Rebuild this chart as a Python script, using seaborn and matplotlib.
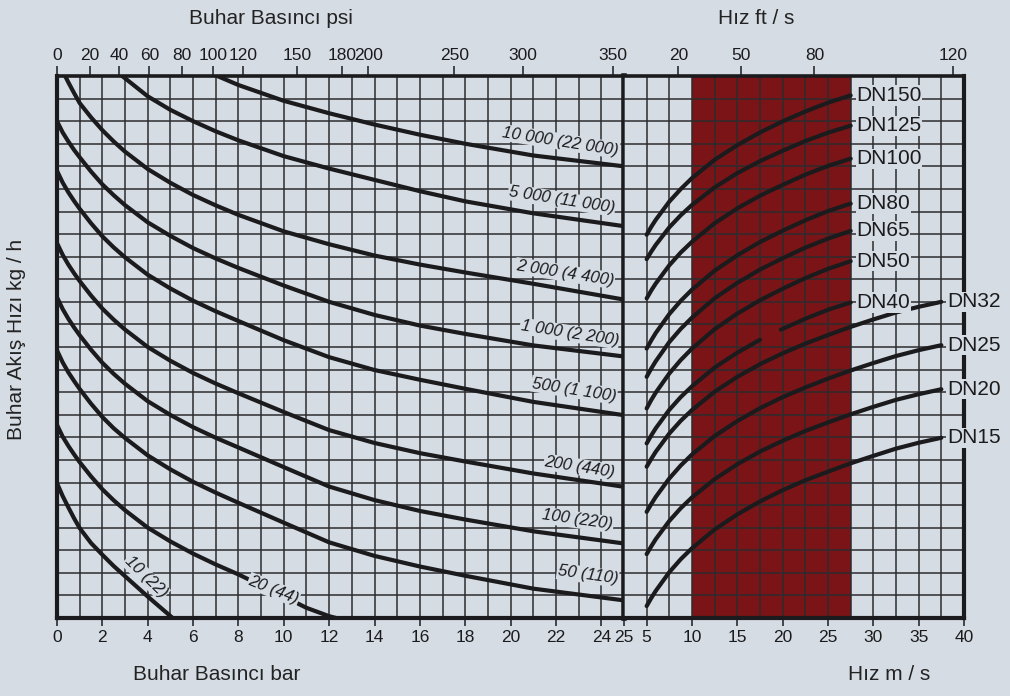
import pandas as pd
import seaborn as sns
import matplotlib.pyplot as plt

sns.set_style("ticks")
plt.rcParams['font.family'] = ['Liberation Sans', 'DejaVu Sans']
narrow = ['Liberation Sans Narrow', 'Liberation Sans', 'DejaVu Sans']

bg = "#d5dce4"
red = "#7a1416"
ink = "#1b1b1d"
grid_c = "#2c2c2e"

# steam flow curves, left panel: pressure (bar g) -> row on the log flow grid (0..24)
flow_names = ["10 000 (22 000)", "5 000 (11 000)", "2 000 (4 400)", "1 000 (2 200)",
              "500 (1 100)", "200 (440)", "100 (220)", "50 (110)", "20 (44)", "10 (22)"]
bars_full = [0, 0.25, 0.5, 0.75, 1, 1.5, 2, 2.5, 3, 4, 5, 6, 7, 8, 10, 12, 14, 16, 18, 21, 25]
flow_x = [
    [6, 7, 8, 10, 12, 14, 16, 18, 21, 25],
    [2, 2.5, 3, 4, 5, 6, 7, 8, 10, 12, 14, 16, 18, 21, 25],
    bars_full, bars_full, bars_full, bars_full, bars_full, bars_full,
    [0, 0.25, 0.5, 0.75, 1, 1.5, 2, 2.5, 3, 4, 5, 6, 7, 8, 10, 11, 12, 12.5],
    [0, 0.25, 0.5, 0.75, 1, 1.5, 2, 2.5, 3, 4, 5.1],
]
flow_y = [
    [24.5, 24.03, 23.6, 22.9, 22.35, 21.85, 21.4, 21.0, 20.48, 20.0],
    [24.8, 24.3, 23.9, 23.1, 22.5, 22.0, 21.55, 21.15, 20.45, 19.9, 19.4, 18.9, 18.45, 17.92, 17.35],
    [24.75, 24.22, 23.72, 23.25, 22.8, 22.17, 21.6, 21.1, 20.65, 19.88, 19.27, 18.73, 18.27,
     17.85, 17.12, 16.55, 16.05, 15.65, 15.3, 14.8, 14.1],
    [22.0, 21.5, 21.1, 20.73, 20.4, 19.77, 19.2, 18.72, 18.28, 17.52, 16.92, 16.38, 15.92,
     15.5, 14.72, 14.0, 13.42, 12.95, 12.58, 12.07, 11.58],
    [19.8, 19.28, 18.85, 18.47, 18.12, 17.48, 16.9, 16.41, 15.97, 15.2, 14.59, 14.05, 13.58,
     13.15, 12.3, 11.55, 10.98, 10.55, 10.15, 9.57, 8.98],
    [16.6, 16.08, 15.65, 15.27, 14.92, 14.28, 13.7, 13.21, 12.77, 12.0, 11.39, 10.85, 10.38,
     9.95, 9.12, 8.32, 7.75, 7.3, 6.93, 6.4, 5.81],
    [14.2, 13.68, 13.25, 12.87, 12.52, 11.88, 11.3, 10.81, 10.37, 9.6, 8.99, 8.45, 7.98,
     7.55, 6.68, 5.82, 5.22, 4.74, 4.36, 3.84, 3.3],
    [11.85, 11.32, 10.88, 10.5, 10.14, 9.49, 8.9, 8.4, 7.97, 7.2, 6.58, 6.03, 5.55,
     5.1, 4.22, 3.35, 2.75, 2.28, 1.87, 1.3, 0.78],
    [8.55, 8.03, 7.62, 7.25, 6.9, 6.27, 5.7, 5.21, 4.77, 4.0, 3.39, 2.85, 2.37, 1.93, 0.95,
     0.45, 0.08, -0.05],
    [5.97, 5.4, 4.9, 4.42, 3.98, 3.32, 2.8, 2.3, 1.85, 0.95, 0.0],
]
# label spot (bar, row) and angle for each flow curve
flow_lab = [(22.2, 21.1, -9), (22.25, 18.5, -9), (22.4, 15.27, -9), (22.6, 12.6, -9),
            (22.8, 10.1, -9), (23.05, 6.68, -9), (22.95, 4.34, -8), (23.4, 1.9, -8),
            (9.55, 1.25, -22), (3.92, 1.8, -44)]

# pipe size curves, right panel: velocity m/s -> row
dn_names = ["DN150", "DN125", "DN100", "DN80", "DN65", "DN50", "DN40",
            "DN32", "DN25", "DN20", "DN15"]
v_short = [5, 5.5, 6, 7.5, 8.75, 10, 12.5, 15, 17.5, 20, 22.5, 25, 27.5]
v_long = [5, 5.5, 6, 7.5, 8.75, 10, 12.5, 15, 17.5, 20, 22.5, 25, 27.5, 30, 32.5, 35, 37.5]
dn_x = ([v_short] * 6 + [[5, 5.5, 6, 7.5, 8.75, 10, 12.5, 15, 17.5, None, 19.8, 22.5, 25, 27.5]]
        + [v_long] * 4)
dn_y = [
    [16.97, 17.32, 17.63, 18.44, 18.99, 19.48, 20.29, 20.94, 21.5, 21.99, 22.43, 22.82, 23.14],
    [15.89, 16.22, 16.52, 17.3, 17.83, 18.29, 19.07, 19.7, 20.23, 20.69, 21.12, 21.49, 21.8],
    [14.15, 14.5, 14.81, 15.62, 16.18, 16.66, 17.48, 18.14, 18.7, 19.18, 19.63, 20.02, 20.34],
    [11.93, 12.29, 12.62, 13.46, 14.04, 14.54, 15.38, 16.06, 16.65, 17.15, 17.61, 18.02, 18.35],
    [10.68, 11.04, 11.37, 12.22, 12.8, 13.3, 14.16, 14.84, 15.43, 15.93, 16.4, 16.8, 17.14],
    [9.28, 9.65, 9.98, 10.83, 11.42, 11.93, 12.79, 13.48, 14.07, 14.58, 15.05, 15.46, 15.8],
    [7.73, 8.08, 8.4, 9.22, 9.78, 10.26, 11.09, 11.75, 12.32, None, 12.77, 13.25, 13.65, 13.97],
    [6.7, 7.04, 7.36, 8.17, 8.73, 9.21, 10.02, 10.68, 11.24, 11.72, 12.15, 12.53, 12.89, 13.22,
     13.53, 13.78, 14.0],
    [4.7, 5.04, 5.36, 6.18, 6.75, 7.24, 8.06, 8.72, 9.29, 9.78, 10.21, 10.6, 10.96, 11.29,
     11.6, 11.86, 12.08],
    [2.83, 3.17, 3.49, 4.3, 4.86, 5.34, 6.15, 6.81, 7.37, 7.85, 8.28, 8.66, 9.02, 9.35,
     9.66, 9.91, 10.13],
    [0.53, 0.88, 1.2, 2.03, 2.6, 3.09, 3.92, 4.59, 5.16, 5.66, 6.1, 6.48, 6.85, 7.18,
     7.5, 7.76, 7.98],
]

# axis ticks
bar_ticks = [0, 2, 4, 6, 8, 10, 12, 14, 16, 18, 20, 22, 24, 25]
psi_labels = [0, 20, 40, 60, 80, 100, 120, 150, 180, 200, 250, 300, 350]
psi_at_bar = [0, 1.44, 2.75, 4.07, 5.5, 6.89, 8.22, 10.57, 12.58, 13.73, 17.52, 20.54, 24.53]
ms_ticks = [5, 10, 15, 20, 25, 30, 35, 40]
fts_labels = [20, 50, 80, 120]
fts_at_ms = [8.5, 15.4, 23.5, 38.75]
band = (10, 27.5)

# long tables for seaborn
rows = []
for name, xs, ys in zip(flow_names, flow_x, flow_y):
    rows += [(name, x, y) for x, y in zip(xs, ys)]
flow_df = pd.DataFrame(rows, columns=["curve", "bar", "row"])

rows = []
for name, xs, ys in zip(dn_names, dn_x, dn_y):
    seg = 0
    for x, y in zip(xs, ys):
        if x is None:
            seg += 1
            continue
        rows.append((f"{name}_{seg}", x, y))
dn_df = pd.DataFrame(rows, columns=["curve", "v", "row"])

fig = plt.figure(figsize=(10.1, 6.96), dpi=100, facecolor=bg)
axL = fig.add_axes([57 / 1010, 78 / 696, 567 / 1010, 542 / 696], facecolor=bg)
axR = fig.add_axes([624 / 1010, 78 / 696, 340 / 1010, 542 / 696], facecolor=bg)

axR.axvspan(*band, color=red, lw=0, zorder=0.3)

sns.lineplot(data=flow_df, x="bar", y="row", units="curve", estimator=None, sort=False,
             color=ink, lw=3.0, ax=axL, legend=False, zorder=3)
sns.lineplot(data=dn_df, x="v", y="row", units="curve", estimator=None, sort=False,
             color=ink, lw=3.0, ax=axR, legend=False, zorder=3)

for ax, xlim, major, minor in [(axL, (0, 25), bar_ticks, [i for i in range(1, 25, 2)]),
                               (axR, (2.5, 40), ms_ticks, [2.5 + 5 * i for i in range(8)])]:
    ax.set_xlim(*xlim)
    ax.set_ylim(0, 24)
    ax.set_xticks(major)
    ax.set_xticks(minor, minor=True)
    ax.set_yticks(range(25))
    ax.set_yticklabels([])
    ax.set_xlabel("")
    ax.set_ylabel("")
    ax.grid(which="both", color=grid_c, lw=1.1)
    ax.tick_params(axis="y", length=0)
    ax.tick_params(axis="x", which="minor", length=0)
    ax.tick_params(axis="x", which="major", direction="out", length=6, width=1.1,
                   color=ink, pad=3, labelsize=12.5, labelcolor=ink)
    for lab in ax.get_xticklabels():
        lab.set_family(narrow)
    for s in ax.spines.values():
        s.set_color(ink)
        s.set_zorder(5)
    ax.spines["top"].set_linewidth(2.6)
    ax.spines["bottom"].set_linewidth(3.0)

axL.spines["left"].set_linewidth(3.0)
axL.spines["right"].set_linewidth(4.0)
axR.spines["left"].set_visible(False)
axR.spines["right"].set_linewidth(3.0)

# top scales
for ax, pos, labs in [(axL, psi_at_bar, psi_labels), (axR, fts_at_ms, fts_labels)]:
    top = ax.twiny()
    top.set_xlim(ax.get_xlim())
    top.set_xticks(pos)
    top.set_xticklabels([str(p) for p in labs], family=narrow)
    top.tick_params(axis="x", direction="out", length=7, width=1.1, color=ink,
                    pad=2, labelsize=12.5, labelcolor=ink)
    for s in top.spines.values():
        s.set_visible(False)

# curve labels
for name, (x, y, ang) in zip(flow_names, flow_lab):
    axL.text(x, y, name, rotation=ang, rotation_mode="anchor", ha="center", va="center",
             style="italic", fontsize=12, color=ink, zorder=4,
             bbox=dict(fc=bg, ec="none", pad=0.6))

for name, xs, ys in zip(dn_names, dn_x, dn_y):
    axR.annotate(name, xy=(xs[-1], ys[-1]), xytext=(4, 0), textcoords="offset points",
                 ha="left", va="center", fontsize=15, color=ink, zorder=6,
                 annotation_clip=False, bbox=dict(fc=bg, ec="none", pad=0.5))

# titles
tkw = dict(family=narrow, fontsize=15, color="#232323", ha="center", va="center")
fig.text(271 / 1010, 1 - 18 / 696, "Buhar Basıncı psi", **tkw)
fig.text(756 / 1010, 1 - 18 / 696, "Hız ft / s", **tkw)
fig.text(217 / 1010, 1 - 675 / 696, "Buhar Basıncı bar", **tkw)
fig.text(889 / 1010, 1 - 675 / 696, "Hız m / s", **tkw)
fig.text(17 / 1010, 1 - 339 / 696, "Buhar Akış Hızı kg / h", rotation=90, **tkw)

fig.savefig("out.png", dpi=100, facecolor=bg)
